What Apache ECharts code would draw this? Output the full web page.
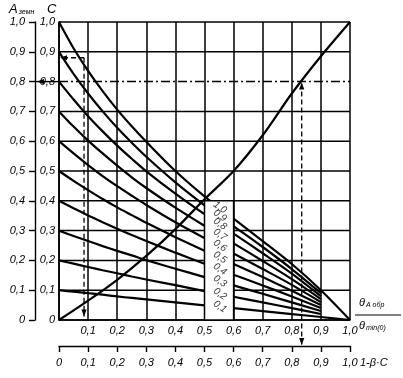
<!DOCTYPE html>
<html><head><meta charset="utf-8">
<script src="https://cdn.jsdelivr.net/npm/echarts@6/dist/echarts.min.js"></script>
<style>html,body{margin:0;padding:0;background:#fff}#c{width:403px;height:378px}</style>
</head><body><div id="c"></div><script>
// ---- data ----
const xs   = [0, 0.05, 0.1, 0.15, 0.2, 0.25, 0.3, 0.4, 0.5, 0.6, 0.7, 0.8, 0.9];
const c10  = [1.0, 0.912, 0.836, 0.768, 0.706, 0.650, 0.598, 0.500, 0.415, 0.340, 0.265, 0.188, 0.100];
const c09  = [0.9, 0.826, 0.760, 0.700, 0.645, 0.595, 0.548, 0.462, 0.385, 0.315, 0.245, 0.171, 0.090];
const c08  = [0.8, 0.740, 0.684, 0.633, 0.585, 0.541, 0.499, 0.424, 0.355, 0.290, 0.224, 0.156, 0.080];
const c07  = [0.7, 0.649, 0.602, 0.559, 0.518, 0.479, 0.443, 0.377, 0.316, 0.257, 0.198, 0.137, 0.070];
const c06  = [0.6, 0.559, 0.520, 0.483, 0.449, 0.417, 0.386, 0.328, 0.275, 0.223, 0.171, 0.118, 0.060];
const c05  = [0.5, 0.467, 0.436, 0.406, 0.378, 0.352, 0.326, 0.278, 0.232, 0.188, 0.144, 0.098, 0.050];
const c04  = [0.4, 0.375, 0.351, 0.328, 0.306, 0.285, 0.265, 0.226, 0.189, 0.152, 0.116, 0.079, 0.040];
const c03  = [0.3, 0.282, 0.265, 0.248, 0.232, 0.217, 0.201, 0.172, 0.144, 0.116, 0.088, 0.059, 0.030];
const c02  = [0.2, 0.189, 0.178, 0.167, 0.157, 0.146, 0.136, 0.117, 0.097, 0.078, 0.059, 0.040, 0.020];
const c01  = [0.1, 0.095, 0.090, 0.085, 0.079, 0.074, 0.069, 0.059, 0.049, 0.040, 0.030, 0.020, 0.010];
const curveNames = ['1,0','0,9','0,8','0,7','0,6','0,5','0,4','0,3','0,2','0,1'];
const tailX = [0.9, 1.0];           // c = 1,0 and c = 0,1 run on to 1,0
const tail10 = [0.100, 0.0];
const tail01 = [0.010, 0.0];
const risingX = [0, 0.1, 0.2, 0.3, 0.4, 0.5, 0.6, 0.7, 0.8, 0.9, 1.0];
const risingY = [0, 0.065, 0.135, 0.215, 0.305, 0.405, 0.5, 0.62, 0.76, 0.885, 1.0];
const tickVals = [0, 0.1, 0.2, 0.3, 0.4, 0.5, 0.6, 0.7, 0.8, 0.9, 1.0];
const mainXLabels  = ['', '0,1','0,2','0,3','0,4','0,5','0,6','0,7','0,8','0,9','1,0'];
const lowerXLabels = ['0','0,1','0,2','0,3','0,4','0,5','0,6','0,7','0,8','0,9','1,0'];
const cLabels = ['0','0,1','0,2','0,3','0,4','0,5','0,6','0,7','0,8','0,9','1,0'];
const aLabels = ['0','0,1','0,2','0,3','0,4','0,5','0,6','0,7','0,8','0,9','1,0'];
const dashedGridValue = 0.8;
const readX = [0.086, 0.834];
const readY = [0.88, 0.8];
const readBottomY = 0.012;
const boxX = [0.5, 0.6];
const boxY = [0, 0.4];
const labelAtX = 0.553;

// ---- chart ----
const FONT = 'Liberation Sans';
const txt = {color:'#000', fontStyle:'italic', fontFamily:FONT, fontSize:11};
const chart = echarts.init(document.getElementById('c'), null, {renderer:'canvas'});
const curves = [c10,c09,c08,c07,c06,c05,c04,c03,c02,c01];
const curveSeries = curves.map((vals, k) => {
  let data = xs.map((x,i)=>[x, vals[i]]);
  if (k === 0) data = data.concat([[tailX[1], tail10[1]]]);
  if (k === 9) data = data.concat([[tailX[1], tail01[1]]]);
  return {type:'line', name:curveNames[k], data, smooth:0.3, symbol:'none', z:3,
          lineStyle:{color:'#000', width:2.2}};
});
const labelData = curves.map((vals,k)=>({name:curveNames[k], value:[labelAtX, (vals[8]+vals[9])/2]}));

chart.setOption({
  animation:false,
  grid:{left:59, top:22, width:291, height:298, containLabel:false},
  xAxis:[
    {type:'value', min:0, max:1, interval:0.1, position:'bottom',
     axisLine:{show:true, onZero:false, lineStyle:{color:'#000', width:1.6}},
     axisTick:{show:false},
     axisLabel:Object.assign({margin:5, formatter:v=>mainXLabels[Math.round(v*10)]}, txt),
     splitLine:{show:true, lineStyle:{color:'#000', width:1.5}}},
    {type:'value', min:0, max:1, interval:0.1, position:'bottom', offset:26,
     axisLine:{show:true, onZero:false, lineStyle:{color:'#000', width:1.4}},
     axisTick:{show:true, inside:false, length:6, lineStyle:{color:'#000', width:1.4}},
     axisLabel:Object.assign({margin:11, formatter:v=>lowerXLabels[Math.round(v*10)]}, txt),
     splitLine:{show:false}}
  ],
  yAxis:[
    {type:'value', min:0, max:1, interval:0.1, position:'left',
     axisLine:{show:true, onZero:false, lineStyle:{color:'#000', width:1.6}},
     axisTick:{show:false},
     axisLabel:Object.assign({margin:4, formatter:v=>cLabels[Math.round(v*10)]}, txt),
     splitLine:{show:false}},
    {type:'value', min:0, max:1, interval:0.1, position:'left', offset:24,
     axisLine:{show:true, onZero:false, lineStyle:{color:'#000', width:1.4}},
     axisTick:{show:true, inside:false, length:6, lineStyle:{color:'#000', width:1.4}},
     axisLabel:Object.assign({margin:10, formatter:v=>aLabels[Math.round(v*10)]}, txt),
     splitLine:{show:false}}
  ],
  series:[
    {type:'custom', z:1, coordinateSystem:'cartesian2d', xAxisIndex:0, yAxisIndex:0,
     data: tickVals.map(v=>[0, v]), encode:{x:0, y:1},
     renderItem:(p, api)=>{
       const v = api.value(1);
       const a = api.coord([0, v]), b = api.coord([1, v]);
       const dashed = Math.abs(v - dashedGridValue) < 1e-6;
       return {type:'line', shape:{x1:a[0], y1:a[1], x2:b[0], y2:b[1]},
               style:{stroke:'#000', lineWidth:1.5, lineDash: dashed ? [9,3,2,3] : null}};
     }},
    ...curveSeries,
    {type:'line', name:'rising', data:risingX.map((x,i)=>[x, risingY[i]]), smooth:0.3,
     symbol:'none', z:3, lineStyle:{color:'#000', width:2.2}},
    {type:'custom', z:10, coordinateSystem:'cartesian2d', xAxisIndex:0, yAxisIndex:0,
     data:[[boxX[0], boxY[0], boxX[1], boxY[1]]],
     renderItem:(p, api)=>{
       const a = api.coord([api.value(0), api.value(3)]);
       const b = api.coord([api.value(2), api.value(1)]);
       return {type:'rect', shape:{x:a[0], y:a[1], width:b[0]-a[0], height:b[1]-a[1]},
               style:{fill:'#fff', stroke:'#000', lineWidth:1.5}};
     }},
    {type:'scatter', z:11, symbolSize:0, data:labelData,
     label:Object.assign({show:true, position:'inside', rotate:-35, formatter:'{b}'}, txt, {fontSize:10})}
  ]
});

// ---- reading lines and annotations ----
const P = (x,y)=>chart.convertToPixel({xAxisIndex:0, yAxisIndex:0}, [x,y]);
function head(tip, dir){
  const L=7, W=2.6; let pts;
  if (dir==='up')    pts=[[tip[0],tip[1]],[tip[0]-W,tip[1]+L],[tip[0]+W,tip[1]+L]];
  if (dir==='down')  pts=[[tip[0],tip[1]],[tip[0]-W,tip[1]-L],[tip[0]+W,tip[1]-L]];
  if (dir==='left')  pts=[[tip[0],tip[1]],[tip[0]+L,tip[1]-W],[tip[0]+L,tip[1]+W]];
  return {type:'polygon', z:20, shape:{points:pts}, style:{fill:'#000'}};
}
function seg(a,b,dash,w){
  return {type:'line', z:20, shape:{x1:a[0],y1:a[1],x2:b[0],y2:b[1]},
          style:{stroke:'#000', lineWidth:w||1.3, lineDash:dash||null}};
}
const pA = P(readX[0], readY[0]), pA0 = P(readX[0], readBottomY), pAL = P(0, readY[0]);
const pB = P(readX[1], readY[1]);
const lowerAxisY = P(0,0)[1] + 26;
const aAxisX = P(0,0)[0] - 24;
const p08 = P(0, dashedGridValue);
const g = [
  seg(pA, pA0, [5,3]), head(pA0, 'down'),
  seg(pA, pAL, [5,3]), head([pAL[0]+1, pAL[1]], 'left'),
  seg([pB[0], pB[1]+2], [pB[0], lowerAxisY-1], [5,3]), head([pB[0], pB[1]+1], 'up'), head([pB[0], lowerAxisY-1], 'down'),
  seg([aAxisX, p08[1]], [p08[0], p08[1]], null, 1.4), head([aAxisX+2, p08[1]], 'left'),
  {type:'text', left:47, top:3, style:{text:'C', fill:'#000', font:'italic 13px '+FONT}},
  {type:'text', left:9, top:3, style:{text:'{a|A}{s|земн}', fill:'#000',
     rich:{a:{font:'italic 13px '+FONT, fill:'#000'}, s:{font:'italic 7px '+FONT, fill:'#000', padding:[6,0,0,1]}}}},
  {type:'text', left:359, top:297, style:{text:'{a|θ}{s|A обр}', fill:'#000',
     rich:{a:{font:'italic 11px '+FONT, fill:'#000'}, s:{font:'italic 7px '+FONT, fill:'#000', padding:[5,0,0,1]}}}},
  {type:'line', shape:{x1:355, y1:315, x2:401, y2:315}, style:{stroke:'#000', lineWidth:1.2}},
  {type:'text', left:359, top:320, style:{text:'{a|θ}{s|min(0)}', fill:'#000',
     rich:{a:{font:'italic 11px '+FONT, fill:'#000'}, s:{font:'italic 7px '+FONT, fill:'#000', padding:[5,0,0,1]}}}},
  {type:'text', left:360, top:357, style:{text:'1-β·C', fill:'#000', font:'italic 11px '+FONT}}
];
chart.setOption({graphic:g});
</script></body></html>
